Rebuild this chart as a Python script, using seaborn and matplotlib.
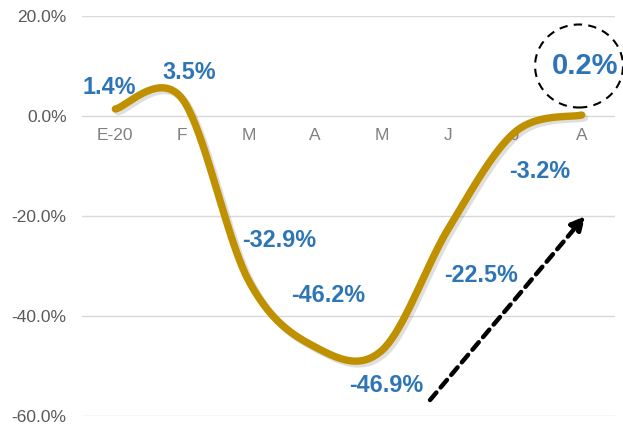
import numpy as np
import pandas as pd
import matplotlib.pyplot as plt
import matplotlib.patheffects as pe
from matplotlib.patches import Ellipse
from matplotlib.ticker import FuncFormatter
import seaborn as sns

# data
months = ['E-20', 'F', 'M', 'A', 'M', 'J', 'J', 'A']
values = [1.4, 3.5, -32.9, -46.2, -46.9, -22.5, -3.2, 0.2]
labels = ['1.4%', '3.5%', '-32.9%', '-46.2%', '-46.9%', '-22.5%', '-3.2%', '0.2%']
y_ticks = [-60, -40, -20, 0, 20]

# label offsets in pixels (dx, dy)
label_offsets = [(-6, 21), (7, 26), (31, 40), (13, 52), (4, -35), (33, -47), (25, -40), (3, 49)]

sns.set_style('white')
plt.rcParams['font.family'] = ['Liberation Sans', 'DejaVu Sans']

fig = plt.figure(figsize=(6.23, 4.32), dpi=100)
ax = fig.add_axes([82 / 623, 16 / 432, 533 / 623, 400 / 432])

# Excel-style smoothed line (Catmull-Rom / Bezier through the points)
pts = np.column_stack([np.arange(len(values)), values]).astype(float)
ext = np.vstack([pts[0], pts, pts[-1]])
t = np.linspace(0, 1, 40)[:, None]
curve = []
for i in range(len(pts) - 1):
    p0, p1, p2, p3 = ext[i], ext[i + 1], ext[i + 2], ext[i + 3]
    c1 = p1 + (p2 - p0) / 6
    c2 = p2 - (p3 - p1) / 6
    seg = (1 - t) ** 3 * p1 + 3 * (1 - t) ** 2 * t * c1 + 3 * (1 - t) * t ** 2 * c2 + t ** 3 * p2
    curve.append(seg)
curve = np.vstack(curve)
df = pd.DataFrame({'x': curve[:, 0], 'y': curve[:, 1]})

sns.lineplot(data=df, x='x', y='y', ax=ax, sort=False, color='#BF9000', linewidth=5.3,
             solid_capstyle='round', zorder=3,
             path_effects=[pe.SimpleLineShadow(offset=(2, -2), shadow_color='gray', alpha=0.25),
                           pe.Normal()])

# data labels
for i, (v, lab, off) in enumerate(zip(values, labels, label_offsets)):
    big = i == len(values) - 1
    ax.annotate(lab, (i, v), xytext=off, textcoords='offset pixels',
                ha='center', va='center', color='#2E75B6', fontweight='bold',
                fontsize=21 if big else 16.8, zorder=5)

# axes styling
ax.set_xlim(-0.5, len(months) - 0.5)
ax.set_ylim(-60, 20)
ax.set_yticks(y_ticks)
ax.yaxis.set_major_formatter(FuncFormatter(lambda v, p: f'{v:.1f}%'))
ax.set_xticks(range(len(months)))
ax.set_xticklabels(months)
ax.grid(axis='y', color='#D9D9D9', linewidth=1)
ax.set_axisbelow(True)
for s in ax.spines.values():
    s.set_visible(False)
ax.spines['bottom'].set_position(('data', 0))
ax.tick_params(axis='x', length=0, pad=9, labelsize=12.5, labelcolor='#808080')
ax.tick_params(axis='y', length=0, pad=11, labelsize=12.5, labelcolor='#595959')
ax.set_xlabel('')
ax.set_ylabel('')

# dashed circle around last value
ax.add_patch(Ellipse((0.9325, 0.875), 0.165, 0.2075, transform=ax.transAxes, fill=False,
                     edgecolor='black', linestyle=(0, (4, 3)), linewidth=1.5, clip_on=False))

# dashed arrow
ax.annotate('', xy=(0.944, 0.5), xytext=(0.653, 0.04), xycoords='axes fraction',
            textcoords='axes fraction',
            arrowprops=dict(arrowstyle='-|>', linestyle=(0, (2.2, 1.5)), lw=3.2, color='black',
                            mutation_scale=20, shrinkA=0, shrinkB=0))

plt.savefig('out.png', dpi=100)
